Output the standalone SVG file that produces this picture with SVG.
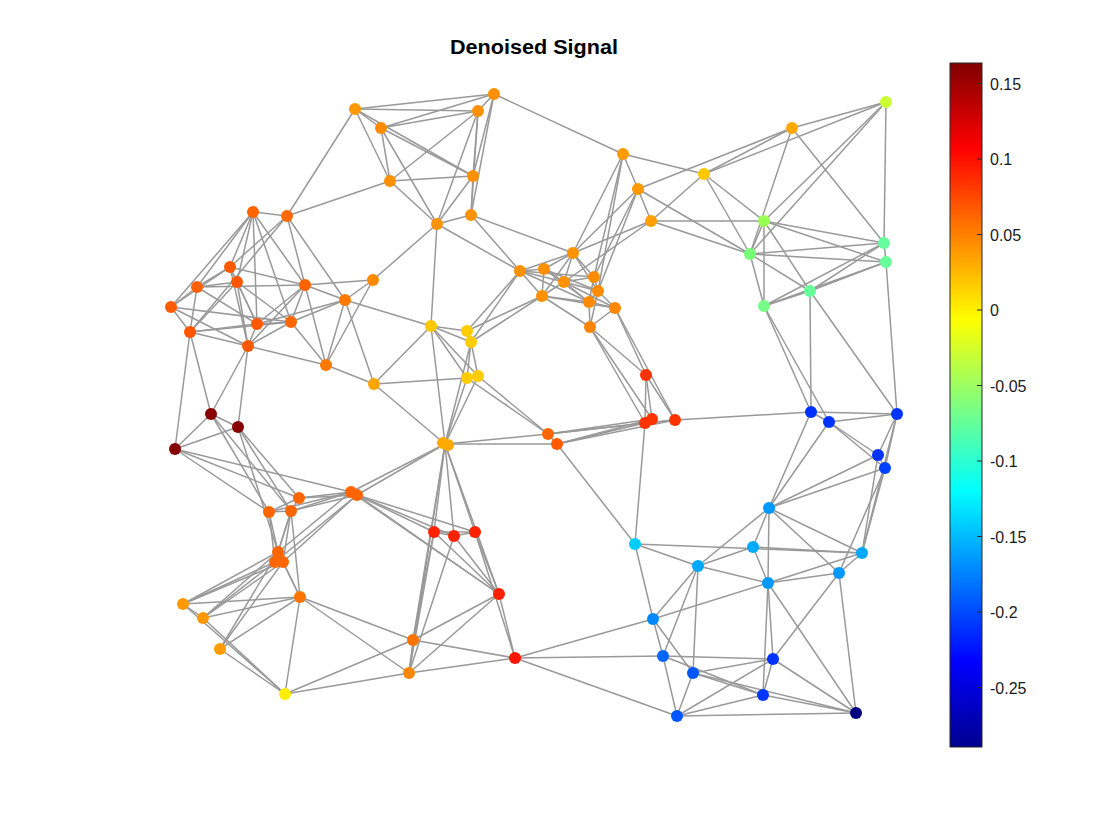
<svg xmlns="http://www.w3.org/2000/svg" width="1120" height="840" viewBox="0 0 1120 840">
<style>
.e line{stroke:#999999;stroke-width:1.5;}
.t{font-family:"Liberation Sans",Arial,sans-serif;fill:#000;}
.tk{font-family:"Liberation Sans",Arial,sans-serif;font-size:16px;fill:#1a1a1a;}
</style>
<defs>
<linearGradient id="jet" x1="0" y1="1" x2="0" y2="0">
<stop offset="0" stop-color="#00008f"/>
<stop offset="0.125" stop-color="#0000ff"/>
<stop offset="0.375" stop-color="#00ffff"/>
<stop offset="0.625" stop-color="#ffff00"/>
<stop offset="0.875" stop-color="#ff0000"/>
<stop offset="1" stop-color="#800000"/>
</linearGradient>
</defs>
<rect width="1120" height="840" fill="#ffffff"/>
<text class="t" x="534" y="54" font-size="20" font-weight="bold" text-anchor="middle" textLength="168" lengthAdjust="spacingAndGlyphs">Denoised Signal</text>
<g id="edges" class="e">
<line x1="355" y1="109" x2="494" y2="94"/>
<line x1="355" y1="109" x2="478" y2="111"/>
<line x1="355" y1="109" x2="381" y2="128"/>
<line x1="355" y1="109" x2="390" y2="181"/>
<line x1="355" y1="109" x2="473" y2="176"/>
<line x1="355" y1="109" x2="287" y2="216"/>
<line x1="381" y1="128" x2="494" y2="94"/>
<line x1="381" y1="128" x2="478" y2="111"/>
<line x1="381" y1="128" x2="390" y2="181"/>
<line x1="381" y1="128" x2="473" y2="176"/>
<line x1="381" y1="128" x2="437" y2="224"/>
<line x1="494" y1="94" x2="478" y2="111"/>
<line x1="494" y1="94" x2="473" y2="176"/>
<line x1="494" y1="94" x2="471" y2="215"/>
<line x1="494" y1="94" x2="623" y2="154"/>
<line x1="478" y1="111" x2="473" y2="176"/>
<line x1="478" y1="111" x2="471" y2="215"/>
<line x1="478" y1="111" x2="390" y2="181"/>
<line x1="478" y1="111" x2="437" y2="224"/>
<line x1="390" y1="181" x2="473" y2="176"/>
<line x1="390" y1="181" x2="437" y2="224"/>
<line x1="390" y1="181" x2="287" y2="216"/>
<line x1="473" y1="176" x2="471" y2="215"/>
<line x1="473" y1="176" x2="437" y2="224"/>
<line x1="437" y1="224" x2="471" y2="215"/>
<line x1="437" y1="224" x2="431" y2="326"/>
<line x1="437" y1="224" x2="373" y2="280"/>
<line x1="437" y1="224" x2="520" y2="271"/>
<line x1="471" y1="215" x2="520" y2="271"/>
<line x1="471" y1="215" x2="573" y2="253"/>
<line x1="287" y1="216" x2="253" y2="212"/>
<line x1="253" y1="212" x2="230" y2="267"/>
<line x1="253" y1="212" x2="197" y2="287"/>
<line x1="253" y1="212" x2="237" y2="282"/>
<line x1="253" y1="212" x2="171" y2="307"/>
<line x1="253" y1="212" x2="257" y2="324"/>
<line x1="253" y1="212" x2="305" y2="285"/>
<line x1="253" y1="212" x2="291" y2="322"/>
<line x1="287" y1="216" x2="230" y2="267"/>
<line x1="287" y1="216" x2="305" y2="285"/>
<line x1="287" y1="216" x2="345" y2="300"/>
<line x1="287" y1="216" x2="190" y2="332"/>
<line x1="230" y1="267" x2="197" y2="287"/>
<line x1="230" y1="267" x2="237" y2="282"/>
<line x1="230" y1="267" x2="171" y2="307"/>
<line x1="230" y1="267" x2="257" y2="324"/>
<line x1="230" y1="267" x2="305" y2="285"/>
<line x1="230" y1="267" x2="248" y2="346"/>
<line x1="197" y1="287" x2="237" y2="282"/>
<line x1="197" y1="287" x2="171" y2="307"/>
<line x1="197" y1="287" x2="190" y2="332"/>
<line x1="197" y1="287" x2="257" y2="324"/>
<line x1="197" y1="287" x2="305" y2="285"/>
<line x1="237" y1="282" x2="190" y2="332"/>
<line x1="237" y1="282" x2="291" y2="322"/>
<line x1="237" y1="282" x2="248" y2="346"/>
<line x1="237" y1="282" x2="257" y2="324"/>
<line x1="305" y1="285" x2="345" y2="300"/>
<line x1="305" y1="285" x2="373" y2="280"/>
<line x1="305" y1="285" x2="257" y2="324"/>
<line x1="305" y1="285" x2="291" y2="322"/>
<line x1="305" y1="285" x2="248" y2="346"/>
<line x1="305" y1="285" x2="326" y2="365"/>
<line x1="171" y1="307" x2="190" y2="332"/>
<line x1="171" y1="307" x2="291" y2="322"/>
<line x1="171" y1="307" x2="248" y2="346"/>
<line x1="345" y1="300" x2="373" y2="280"/>
<line x1="345" y1="300" x2="291" y2="322"/>
<line x1="345" y1="300" x2="326" y2="365"/>
<line x1="345" y1="300" x2="374" y2="384"/>
<line x1="345" y1="300" x2="431" y2="326"/>
<line x1="345" y1="300" x2="257" y2="324"/>
<line x1="373" y1="280" x2="326" y2="365"/>
<line x1="190" y1="332" x2="257" y2="324"/>
<line x1="190" y1="332" x2="248" y2="346"/>
<line x1="190" y1="332" x2="291" y2="322"/>
<line x1="190" y1="332" x2="211" y2="414"/>
<line x1="190" y1="332" x2="175" y2="449"/>
<line x1="257" y1="324" x2="291" y2="322"/>
<line x1="257" y1="324" x2="248" y2="346"/>
<line x1="291" y1="322" x2="248" y2="346"/>
<line x1="291" y1="322" x2="326" y2="365"/>
<line x1="248" y1="346" x2="326" y2="365"/>
<line x1="248" y1="346" x2="211" y2="414"/>
<line x1="248" y1="346" x2="238" y2="427"/>
<line x1="326" y1="365" x2="374" y2="384"/>
<line x1="374" y1="384" x2="431" y2="326"/>
<line x1="374" y1="384" x2="467" y2="378"/>
<line x1="374" y1="384" x2="445" y2="444"/>
<line x1="431" y1="326" x2="467" y2="331"/>
<line x1="431" y1="326" x2="471" y2="342"/>
<line x1="431" y1="326" x2="467" y2="378"/>
<line x1="431" y1="326" x2="478" y2="376"/>
<line x1="431" y1="326" x2="445" y2="444"/>
<line x1="467" y1="331" x2="471" y2="342"/>
<line x1="467" y1="331" x2="520" y2="271"/>
<line x1="471" y1="342" x2="520" y2="271"/>
<line x1="467" y1="331" x2="542" y2="296"/>
<line x1="471" y1="342" x2="542" y2="296"/>
<line x1="471" y1="342" x2="467" y2="378"/>
<line x1="471" y1="342" x2="478" y2="376"/>
<line x1="467" y1="378" x2="478" y2="376"/>
<line x1="467" y1="378" x2="445" y2="444"/>
<line x1="478" y1="376" x2="445" y2="444"/>
<line x1="467" y1="378" x2="548" y2="434"/>
<line x1="478" y1="376" x2="548" y2="434"/>
<line x1="471" y1="342" x2="445" y2="444"/>
<line x1="211" y1="414" x2="238" y2="427"/>
<line x1="211" y1="414" x2="175" y2="449"/>
<line x1="238" y1="427" x2="175" y2="449"/>
<line x1="211" y1="414" x2="269" y2="512"/>
<line x1="211" y1="414" x2="291" y2="511"/>
<line x1="238" y1="427" x2="299" y2="498"/>
<line x1="238" y1="427" x2="291" y2="511"/>
<line x1="238" y1="427" x2="278" y2="552"/>
<line x1="175" y1="449" x2="299" y2="498"/>
<line x1="175" y1="449" x2="269" y2="512"/>
<line x1="175" y1="449" x2="351" y2="492"/>
<line x1="445" y1="444" x2="548" y2="434"/>
<line x1="445" y1="444" x2="557" y2="444"/>
<line x1="445" y1="444" x2="357" y2="495"/>
<line x1="445" y1="444" x2="351" y2="492"/>
<line x1="445" y1="444" x2="434" y2="532"/>
<line x1="445" y1="444" x2="454" y2="536"/>
<line x1="445" y1="444" x2="475" y2="532"/>
<line x1="445" y1="444" x2="499" y2="594"/>
<line x1="445" y1="444" x2="413" y2="640"/>
<line x1="445" y1="444" x2="409" y2="673"/>
<line x1="548" y1="434" x2="557" y2="444"/>
<line x1="548" y1="434" x2="645" y2="423"/>
<line x1="548" y1="434" x2="652" y2="419"/>
<line x1="557" y1="444" x2="645" y2="423"/>
<line x1="557" y1="444" x2="652" y2="419"/>
<line x1="557" y1="444" x2="675" y2="420"/>
<line x1="557" y1="444" x2="635" y2="544"/>
<line x1="548" y1="434" x2="675" y2="420"/>
<line x1="646" y1="375" x2="645" y2="423"/>
<line x1="646" y1="375" x2="652" y2="419"/>
<line x1="646" y1="375" x2="675" y2="420"/>
<line x1="646" y1="375" x2="590" y2="327"/>
<line x1="646" y1="375" x2="615" y2="308"/>
<line x1="645" y1="423" x2="652" y2="419"/>
<line x1="645" y1="423" x2="590" y2="327"/>
<line x1="652" y1="419" x2="590" y2="327"/>
<line x1="645" y1="423" x2="675" y2="420"/>
<line x1="675" y1="420" x2="615" y2="308"/>
<line x1="675" y1="420" x2="811" y2="412"/>
<line x1="645" y1="423" x2="635" y2="544"/>
<line x1="623" y1="154" x2="638" y2="189"/>
<line x1="623" y1="154" x2="573" y2="253"/>
<line x1="623" y1="154" x2="594" y2="277"/>
<line x1="623" y1="154" x2="598" y2="291"/>
<line x1="623" y1="154" x2="704" y2="174"/>
<line x1="638" y1="189" x2="651" y2="221"/>
<line x1="638" y1="189" x2="573" y2="253"/>
<line x1="638" y1="189" x2="594" y2="277"/>
<line x1="638" y1="189" x2="598" y2="291"/>
<line x1="638" y1="189" x2="792" y2="128"/>
<line x1="638" y1="189" x2="750" y2="254"/>
<line x1="651" y1="221" x2="573" y2="253"/>
<line x1="651" y1="221" x2="564" y2="282"/>
<line x1="651" y1="221" x2="704" y2="174"/>
<line x1="651" y1="221" x2="764" y2="221"/>
<line x1="651" y1="221" x2="750" y2="254"/>
<line x1="573" y1="253" x2="520" y2="271"/>
<line x1="573" y1="253" x2="544" y2="269"/>
<line x1="573" y1="253" x2="564" y2="282"/>
<line x1="573" y1="253" x2="594" y2="277"/>
<line x1="573" y1="253" x2="598" y2="291"/>
<line x1="573" y1="253" x2="542" y2="296"/>
<line x1="520" y1="271" x2="544" y2="269"/>
<line x1="520" y1="271" x2="564" y2="282"/>
<line x1="520" y1="271" x2="594" y2="277"/>
<line x1="520" y1="271" x2="542" y2="296"/>
<line x1="520" y1="271" x2="589" y2="302"/>
<line x1="544" y1="269" x2="564" y2="282"/>
<line x1="544" y1="269" x2="598" y2="291"/>
<line x1="544" y1="269" x2="542" y2="296"/>
<line x1="544" y1="269" x2="589" y2="302"/>
<line x1="564" y1="282" x2="594" y2="277"/>
<line x1="564" y1="282" x2="598" y2="291"/>
<line x1="564" y1="282" x2="589" y2="302"/>
<line x1="564" y1="282" x2="542" y2="296"/>
<line x1="564" y1="282" x2="615" y2="308"/>
<line x1="594" y1="277" x2="598" y2="291"/>
<line x1="594" y1="277" x2="589" y2="302"/>
<line x1="598" y1="291" x2="589" y2="302"/>
<line x1="598" y1="291" x2="615" y2="308"/>
<line x1="598" y1="291" x2="590" y2="327"/>
<line x1="589" y1="302" x2="615" y2="308"/>
<line x1="589" y1="302" x2="590" y2="327"/>
<line x1="542" y1="296" x2="589" y2="302"/>
<line x1="615" y1="308" x2="590" y2="327"/>
<line x1="542" y1="296" x2="590" y2="327"/>
<line x1="542" y1="296" x2="615" y2="308"/>
<line x1="886" y1="102" x2="792" y2="128"/>
<line x1="886" y1="102" x2="704" y2="174"/>
<line x1="886" y1="102" x2="764" y2="221"/>
<line x1="886" y1="102" x2="750" y2="254"/>
<line x1="886" y1="102" x2="884" y2="243"/>
<line x1="792" y1="128" x2="704" y2="174"/>
<line x1="792" y1="128" x2="750" y2="254"/>
<line x1="792" y1="128" x2="884" y2="243"/>
<line x1="704" y1="174" x2="764" y2="221"/>
<line x1="704" y1="174" x2="750" y2="254"/>
<line x1="764" y1="221" x2="750" y2="254"/>
<line x1="764" y1="221" x2="884" y2="243"/>
<line x1="764" y1="221" x2="886" y2="262"/>
<line x1="764" y1="221" x2="810" y2="291"/>
<line x1="764" y1="221" x2="764" y2="306"/>
<line x1="750" y1="254" x2="884" y2="243"/>
<line x1="750" y1="254" x2="886" y2="262"/>
<line x1="750" y1="254" x2="764" y2="306"/>
<line x1="750" y1="254" x2="810" y2="291"/>
<line x1="884" y1="243" x2="886" y2="262"/>
<line x1="884" y1="243" x2="810" y2="291"/>
<line x1="886" y1="262" x2="810" y2="291"/>
<line x1="884" y1="243" x2="764" y2="306"/>
<line x1="886" y1="262" x2="764" y2="306"/>
<line x1="810" y1="291" x2="764" y2="306"/>
<line x1="886" y1="262" x2="897" y2="414"/>
<line x1="810" y1="291" x2="811" y2="412"/>
<line x1="810" y1="291" x2="897" y2="414"/>
<line x1="764" y1="306" x2="811" y2="412"/>
<line x1="764" y1="306" x2="829" y2="422"/>
<line x1="811" y1="412" x2="829" y2="422"/>
<line x1="811" y1="412" x2="897" y2="414"/>
<line x1="829" y1="422" x2="897" y2="414"/>
<line x1="829" y1="422" x2="878" y2="455"/>
<line x1="829" y1="422" x2="885" y2="468"/>
<line x1="811" y1="412" x2="769" y2="508"/>
<line x1="829" y1="422" x2="769" y2="508"/>
<line x1="897" y1="414" x2="878" y2="455"/>
<line x1="897" y1="414" x2="885" y2="468"/>
<line x1="878" y1="455" x2="885" y2="468"/>
<line x1="897" y1="414" x2="862" y2="553"/>
<line x1="878" y1="455" x2="769" y2="508"/>
<line x1="885" y1="468" x2="769" y2="508"/>
<line x1="878" y1="455" x2="862" y2="553"/>
<line x1="885" y1="468" x2="839" y2="573"/>
<line x1="885" y1="468" x2="862" y2="553"/>
<line x1="769" y1="508" x2="753" y2="547"/>
<line x1="769" y1="508" x2="698" y2="566"/>
<line x1="769" y1="508" x2="768" y2="583"/>
<line x1="769" y1="508" x2="839" y2="573"/>
<line x1="769" y1="508" x2="862" y2="553"/>
<line x1="753" y1="547" x2="698" y2="566"/>
<line x1="753" y1="547" x2="768" y2="583"/>
<line x1="753" y1="547" x2="862" y2="553"/>
<line x1="698" y1="566" x2="768" y2="583"/>
<line x1="698" y1="566" x2="635" y2="544"/>
<line x1="698" y1="566" x2="653" y2="619"/>
<line x1="698" y1="566" x2="663" y2="656"/>
<line x1="698" y1="566" x2="693" y2="673"/>
<line x1="768" y1="583" x2="839" y2="573"/>
<line x1="768" y1="583" x2="862" y2="553"/>
<line x1="768" y1="583" x2="653" y2="619"/>
<line x1="768" y1="583" x2="773" y2="659"/>
<line x1="768" y1="583" x2="763" y2="695"/>
<line x1="768" y1="583" x2="856" y2="713"/>
<line x1="839" y1="573" x2="862" y2="553"/>
<line x1="839" y1="573" x2="773" y2="659"/>
<line x1="839" y1="573" x2="856" y2="713"/>
<line x1="862" y1="553" x2="635" y2="544"/>
<line x1="635" y1="544" x2="653" y2="619"/>
<line x1="653" y1="619" x2="663" y2="656"/>
<line x1="653" y1="619" x2="693" y2="673"/>
<line x1="653" y1="619" x2="515" y2="658"/>
<line x1="663" y1="656" x2="773" y2="659"/>
<line x1="663" y1="656" x2="763" y2="695"/>
<line x1="663" y1="656" x2="677" y2="716"/>
<line x1="663" y1="656" x2="515" y2="658"/>
<line x1="693" y1="673" x2="773" y2="659"/>
<line x1="693" y1="673" x2="763" y2="695"/>
<line x1="693" y1="673" x2="677" y2="716"/>
<line x1="693" y1="673" x2="856" y2="713"/>
<line x1="773" y1="659" x2="763" y2="695"/>
<line x1="773" y1="659" x2="677" y2="716"/>
<line x1="773" y1="659" x2="856" y2="713"/>
<line x1="763" y1="695" x2="856" y2="713"/>
<line x1="677" y1="716" x2="856" y2="713"/>
<line x1="677" y1="716" x2="515" y2="658"/>
<line x1="763" y1="695" x2="677" y2="716"/>
<line x1="299" y1="498" x2="351" y2="492"/>
<line x1="299" y1="498" x2="357" y2="495"/>
<line x1="269" y1="512" x2="291" y2="511"/>
<line x1="299" y1="498" x2="269" y2="512"/>
<line x1="299" y1="498" x2="291" y2="511"/>
<line x1="291" y1="511" x2="351" y2="492"/>
<line x1="291" y1="511" x2="357" y2="495"/>
<line x1="269" y1="512" x2="278" y2="552"/>
<line x1="269" y1="512" x2="275" y2="562"/>
<line x1="291" y1="511" x2="278" y2="552"/>
<line x1="291" y1="511" x2="275" y2="562"/>
<line x1="291" y1="511" x2="283" y2="562"/>
<line x1="291" y1="511" x2="300" y2="597"/>
<line x1="269" y1="512" x2="351" y2="492"/>
<line x1="351" y1="492" x2="278" y2="552"/>
<line x1="357" y1="495" x2="275" y2="562"/>
<line x1="357" y1="495" x2="283" y2="562"/>
<line x1="357" y1="495" x2="434" y2="532"/>
<line x1="357" y1="495" x2="454" y2="536"/>
<line x1="357" y1="495" x2="475" y2="532"/>
<line x1="357" y1="495" x2="499" y2="594"/>
<line x1="351" y1="492" x2="499" y2="594"/>
<line x1="278" y1="552" x2="183" y2="604"/>
<line x1="275" y1="562" x2="183" y2="604"/>
<line x1="283" y1="562" x2="183" y2="604"/>
<line x1="278" y1="552" x2="203" y2="618"/>
<line x1="275" y1="562" x2="203" y2="618"/>
<line x1="283" y1="562" x2="203" y2="618"/>
<line x1="278" y1="552" x2="220" y2="649"/>
<line x1="283" y1="562" x2="220" y2="649"/>
<line x1="278" y1="552" x2="300" y2="597"/>
<line x1="283" y1="562" x2="300" y2="597"/>
<line x1="300" y1="597" x2="183" y2="604"/>
<line x1="300" y1="597" x2="203" y2="618"/>
<line x1="300" y1="597" x2="220" y2="649"/>
<line x1="300" y1="597" x2="285" y2="694"/>
<line x1="300" y1="597" x2="413" y2="640"/>
<line x1="300" y1="597" x2="409" y2="673"/>
<line x1="183" y1="604" x2="203" y2="618"/>
<line x1="183" y1="604" x2="285" y2="694"/>
<line x1="203" y1="618" x2="285" y2="694"/>
<line x1="220" y1="649" x2="285" y2="694"/>
<line x1="285" y1="694" x2="413" y2="640"/>
<line x1="285" y1="694" x2="409" y2="673"/>
<line x1="434" y1="532" x2="454" y2="536"/>
<line x1="454" y1="536" x2="475" y2="532"/>
<line x1="434" y1="532" x2="475" y2="532"/>
<line x1="434" y1="532" x2="499" y2="594"/>
<line x1="454" y1="536" x2="499" y2="594"/>
<line x1="475" y1="532" x2="499" y2="594"/>
<line x1="475" y1="532" x2="515" y2="658"/>
<line x1="499" y1="594" x2="515" y2="658"/>
<line x1="499" y1="594" x2="413" y2="640"/>
<line x1="499" y1="594" x2="409" y2="673"/>
<line x1="515" y1="658" x2="413" y2="640"/>
<line x1="515" y1="658" x2="409" y2="673"/>
<line x1="434" y1="532" x2="413" y2="640"/>
<line x1="454" y1="536" x2="409" y2="673"/>
<line x1="413" y1="640" x2="409" y2="673"/>
<line x1="434" y1="532" x2="409" y2="673"/>
</g>
<g id="A1"><circle cx="355" cy="109" r="6" fill="#ff9900"/></g>
<g id="A2"><circle cx="494" cy="94" r="6" fill="#ff9000"/></g>
<g id="A3"><circle cx="381" cy="128" r="6" fill="#ff8c00"/></g>
<g id="A4"><circle cx="478" cy="111" r="6" fill="#ff9000"/></g>
<g id="A5"><circle cx="390" cy="181" r="6" fill="#ff9000"/></g>
<g id="A6"><circle cx="473" cy="176" r="6" fill="#ff9000"/></g>
<g id="A7"><circle cx="437" cy="224" r="6" fill="#ff9200"/></g>
<g id="A8"><circle cx="471" cy="215" r="6" fill="#ff9200"/></g>
<g id="B1"><circle cx="253" cy="212" r="6" fill="#ff6400"/></g>
<g id="B2"><circle cx="287" cy="216" r="6" fill="#ff6a00"/></g>
<g id="B3"><circle cx="230" cy="267" r="6" fill="#ff5a00"/></g>
<g id="B4"><circle cx="197" cy="287" r="6" fill="#ff6000"/></g>
<g id="B5"><circle cx="237" cy="282" r="6" fill="#ff5500"/></g>
<g id="B6"><circle cx="305" cy="285" r="6" fill="#ff6400"/></g>
<g id="B7"><circle cx="171" cy="307" r="6" fill="#ff5c00"/></g>
<g id="B8"><circle cx="345" cy="300" r="6" fill="#ff7a00"/></g>
<g id="B9"><circle cx="373" cy="280" r="6" fill="#ff8a00"/></g>
<g id="B10"><circle cx="190" cy="332" r="6" fill="#ff5500"/></g>
<g id="B11"><circle cx="257" cy="324" r="6" fill="#ff5800"/></g>
<g id="B12"><circle cx="291" cy="322" r="6" fill="#ff6600"/></g>
<g id="B13"><circle cx="248" cy="346" r="6" fill="#ff5800"/></g>
<g id="B14"><circle cx="326" cy="365" r="6" fill="#ff7800"/></g>
<g id="B15"><circle cx="374" cy="384" r="6" fill="#ffa500"/></g>
<g id="C1"><circle cx="431" cy="326" r="6" fill="#ffc800"/></g>
<g id="C2"><circle cx="467" cy="331" r="6" fill="#ffcc00"/></g>
<g id="C3"><circle cx="471" cy="342" r="6" fill="#ffcc00"/></g>
<g id="C4"><circle cx="467" cy="378" r="6" fill="#ffcc00"/></g>
<g id="C5"><circle cx="478" cy="376" r="6" fill="#ffcc00"/></g>
<g id="D1"><circle cx="211" cy="414" r="6" fill="#880000"/></g>
<g id="D2"><circle cx="238" cy="427" r="6" fill="#880000"/></g>
<g id="D3"><circle cx="175" cy="449" r="6" fill="#850000"/></g>
<g id="E1"><circle cx="443" cy="443" r="6" fill="#ffaa00"/></g>
<g id="E1b"><circle cx="448" cy="445" r="6" fill="#ffaa00"/></g>
<g id="E2"><circle cx="548" cy="434" r="6" fill="#ff6600"/></g>
<g id="E3"><circle cx="557" cy="444" r="6" fill="#ff5a00"/></g>
<g id="F1"><circle cx="646" cy="375" r="6" fill="#ff3300"/></g>
<g id="F2"><circle cx="645" cy="423" r="6" fill="#ff3300"/></g>
<g id="F3"><circle cx="652" cy="419" r="6" fill="#ff3300"/></g>
<g id="F4"><circle cx="675" cy="420" r="6" fill="#ff3300"/></g>
<g id="G1"><circle cx="623" cy="154" r="6" fill="#ff9a00"/></g>
<g id="G2"><circle cx="638" cy="189" r="6" fill="#ff9900"/></g>
<g id="G3"><circle cx="651" cy="221" r="6" fill="#ffa000"/></g>
<g id="G4"><circle cx="573" cy="253" r="6" fill="#ff9200"/></g>
<g id="G5"><circle cx="520" cy="271" r="6" fill="#ff9000"/></g>
<g id="G6"><circle cx="544" cy="269" r="6" fill="#ff9000"/></g>
<g id="G7"><circle cx="564" cy="282" r="6" fill="#ff9200"/></g>
<g id="G8"><circle cx="594" cy="277" r="6" fill="#ff8c00"/></g>
<g id="G9"><circle cx="598" cy="291" r="6" fill="#ff8c00"/></g>
<g id="G10"><circle cx="542" cy="296" r="6" fill="#ff9000"/></g>
<g id="G11"><circle cx="589" cy="302" r="6" fill="#ff8a00"/></g>
<g id="G12"><circle cx="615" cy="308" r="6" fill="#ff8800"/></g>
<g id="G13"><circle cx="590" cy="327" r="6" fill="#ff8400"/></g>
<g id="H1"><circle cx="886" cy="102" r="6" fill="#ccff33"/></g>
<g id="H2"><circle cx="792" cy="128" r="6" fill="#ffa800"/></g>
<g id="H3"><circle cx="704" cy="174" r="6" fill="#ffc800"/></g>
<g id="H4"><circle cx="764" cy="221" r="6" fill="#99ff55"/></g>
<g id="H5"><circle cx="750" cy="254" r="6" fill="#77ff77"/></g>
<g id="H6"><circle cx="884" cy="243" r="6" fill="#66ffa0"/></g>
<g id="H7"><circle cx="886" cy="262" r="6" fill="#66ff99"/></g>
<g id="H8"><circle cx="810" cy="291" r="6" fill="#66ff99"/></g>
<g id="H9"><circle cx="764" cy="306" r="6" fill="#77ff88"/></g>
<g id="I1"><circle cx="811" cy="412" r="6" fill="#0030ff"/></g>
<g id="I2"><circle cx="829" cy="422" r="6" fill="#0033ff"/></g>
<g id="I3"><circle cx="897" cy="414" r="6" fill="#0033ff"/></g>
<g id="I4"><circle cx="878" cy="455" r="6" fill="#0033ff"/></g>
<g id="I5"><circle cx="885" cy="468" r="6" fill="#0040ff"/></g>
<g id="J1"><circle cx="769" cy="508" r="6" fill="#0099ff"/></g>
<g id="J2"><circle cx="753" cy="547" r="6" fill="#00aaff"/></g>
<g id="J3"><circle cx="698" cy="566" r="6" fill="#00a8ff"/></g>
<g id="J4"><circle cx="768" cy="583" r="6" fill="#0099ff"/></g>
<g id="J5"><circle cx="839" cy="573" r="6" fill="#0099ff"/></g>
<g id="J6"><circle cx="862" cy="553" r="6" fill="#00a8ff"/></g>
<g id="J7"><circle cx="635" cy="544" r="6" fill="#00ccff"/></g>
<g id="J8"><circle cx="653" cy="619" r="6" fill="#0088ff"/></g>
<g id="J9"><circle cx="663" cy="656" r="6" fill="#0066ff"/></g>
<g id="J10"><circle cx="693" cy="673" r="6" fill="#0055ff"/></g>
<g id="J11"><circle cx="773" cy="659" r="6" fill="#0033ff"/></g>
<g id="J12"><circle cx="763" cy="695" r="6" fill="#0036ff"/></g>
<g id="J13"><circle cx="677" cy="716" r="6" fill="#0055ff"/></g>
<g id="J14"><circle cx="856" cy="713" r="6" fill="#000080"/></g>
<g id="K1"><circle cx="299" cy="498" r="6" fill="#ff6600"/></g>
<g id="K2"><circle cx="269" cy="512" r="6" fill="#ff6600"/></g>
<g id="K3"><circle cx="291" cy="511" r="6" fill="#ff6600"/></g>
<g id="K4"><circle cx="351" cy="492" r="6" fill="#ff6400"/></g>
<g id="K5"><circle cx="357" cy="495" r="6" fill="#ff6400"/></g>
<g id="K6"><circle cx="278" cy="552" r="6" fill="#ff6600"/></g>
<g id="K7"><circle cx="275" cy="562" r="6" fill="#ff6600"/></g>
<g id="K8"><circle cx="283" cy="562" r="6" fill="#ff6600"/></g>
<g id="K9"><circle cx="300" cy="597" r="6" fill="#ff7400"/></g>
<g id="K10"><circle cx="183" cy="604" r="6" fill="#ff9900"/></g>
<g id="K11"><circle cx="203" cy="618" r="6" fill="#ff9900"/></g>
<g id="K12"><circle cx="220" cy="649" r="6" fill="#ff9c00"/></g>
<g id="K13"><circle cx="285" cy="694" r="6" fill="#ffee00"/></g>
<g id="L1"><circle cx="434" cy="532" r="6" fill="#ff2200"/></g>
<g id="L2"><circle cx="454" cy="536" r="6" fill="#ff2200"/></g>
<g id="L3"><circle cx="475" cy="532" r="6" fill="#ff2200"/></g>
<g id="L4"><circle cx="499" cy="594" r="6" fill="#ff2000"/></g>
<g id="L5"><circle cx="515" cy="658" r="6" fill="#ff1400"/></g>
<g id="M1"><circle cx="413" cy="640" r="6" fill="#ff7400"/></g>
<g id="M2"><circle cx="409" cy="673" r="6" fill="#ff8800"/></g>
<g id="colorbar">
<rect x="950" y="63" width="32" height="684" fill="url(#jet)" stroke="#262626" stroke-width="1"/>
<g stroke="#262626" stroke-width="1">
<line x1="977" y1="83.5" x2="982" y2="83.5"/>
<line x1="977" y1="159" x2="982" y2="159"/>
<line x1="977" y1="234.5" x2="982" y2="234.5"/>
<line x1="977" y1="310" x2="982" y2="310"/>
<line x1="977" y1="385.5" x2="982" y2="385.5"/>
<line x1="977" y1="461" x2="982" y2="461"/>
<line x1="977" y1="536.5" x2="982" y2="536.5"/>
<line x1="977" y1="612" x2="982" y2="612"/>
<line x1="977" y1="687.5" x2="982" y2="687.5"/>
</g>
<text class="tk" x="990" y="89.5">0.15</text>
<text class="tk" x="990" y="165">0.1</text>
<text class="tk" x="990" y="240.5">0.05</text>
<text class="tk" x="990" y="316">0</text>
<text class="tk" x="990" y="391.5">-0.05</text>
<text class="tk" x="990" y="467">-0.1</text>
<text class="tk" x="990" y="542.5">-0.15</text>
<text class="tk" x="990" y="618">-0.2</text>
<text class="tk" x="990" y="693.5">-0.25</text>
</g>
</svg>
